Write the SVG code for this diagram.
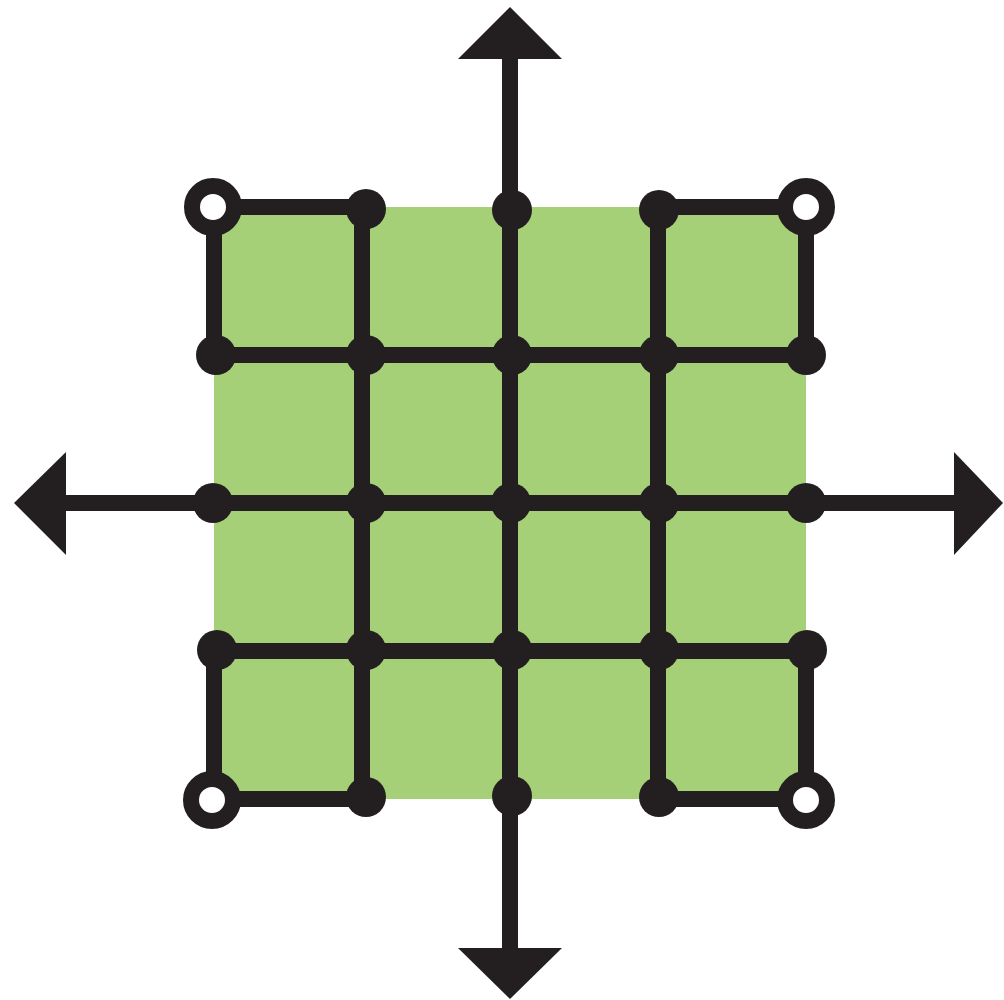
<svg xmlns="http://www.w3.org/2000/svg" width="1004" height="1000" viewBox="0 0 1004 1000">
<style>
.ln{stroke:#231f20;stroke-width:16;fill:none}
.dot{fill:#231f20}
.open{fill:#ffffff;stroke:#231f20;stroke-width:16}
.head{fill:#231f20}
</style>
<rect width="1004" height="1000" fill="#ffffff"/>
<rect id="field" x="214" y="207" width="592" height="592" fill="#a5d077"/>
<g id="connectors">
<line class="ln" x1="510" y1="55" x2="510" y2="952"/>
<line class="ln" x1="62" y1="503" x2="958" y2="503"/>
<line class="ln" x1="214" y1="355" x2="806" y2="355"/>
<line class="ln" x1="214" y1="651" x2="806" y2="651"/>
<line class="ln" x1="362" y1="207" x2="362" y2="799"/>
<line class="ln" x1="658" y1="207" x2="658" y2="799"/>
<line class="ln" x1="214" y1="207" x2="366" y2="207"/>
<line class="ln" x1="658" y1="207" x2="806" y2="207"/>
<line class="ln" x1="214" y1="799" x2="366" y2="799"/>
<line class="ln" x1="658" y1="799" x2="806" y2="799"/>
<line class="ln" x1="214" y1="207" x2="214" y2="355"/>
<line class="ln" x1="806" y1="207" x2="806" y2="355"/>
<line class="ln" x1="214" y1="651" x2="214" y2="799"/>
<line class="ln" x1="806" y1="651" x2="806" y2="799"/>
<polygon class="head" points="510,7 562,59 458,59"/>
<polygon class="head" points="510,999 562,948 458,948"/>
<polygon class="head" points="14,503 66,452 66,555"/>
<polygon class="head" points="1003,503 954,452 954,555"/>
</g>
<g id="n-r1c1"><circle class="open" cx="213" cy="207" r="21"/></g>
<g id="n-r1c2"><circle class="dot" cx="366" cy="209" r="20"/></g>
<g id="n-r1c3"><circle class="dot" cx="512" cy="210" r="20"/></g>
<g id="n-r1c4"><circle class="dot" cx="659" cy="210" r="20"/></g>
<g id="n-r1c5"><circle class="open" cx="806" cy="207" r="21"/></g>
<g id="n-r2c1"><circle class="dot" cx="216" cy="355" r="20"/></g>
<g id="n-r2c2"><circle class="dot" cx="366" cy="355" r="20"/></g>
<g id="n-r2c3"><circle class="dot" cx="512" cy="355" r="20"/></g>
<g id="n-r2c4"><circle class="dot" cx="659" cy="355" r="20"/></g>
<g id="n-r2c5"><circle class="dot" cx="806" cy="355" r="20"/></g>
<g id="n-r3c1"><circle class="dot" cx="213" cy="503" r="20"/></g>
<g id="n-r3c2"><circle class="dot" cx="366" cy="503" r="20"/></g>
<g id="n-r3c3"><circle class="dot" cx="511" cy="503" r="20"/></g>
<g id="n-r3c4"><circle class="dot" cx="659" cy="503" r="20"/></g>
<g id="n-r3c5"><circle class="dot" cx="806" cy="503" r="20"/></g>
<g id="n-r4c1"><circle class="dot" cx="217" cy="650" r="20"/></g>
<g id="n-r4c2"><circle class="dot" cx="366" cy="650" r="20"/></g>
<g id="n-r4c3"><circle class="dot" cx="512" cy="650" r="20"/></g>
<g id="n-r4c4"><circle class="dot" cx="659" cy="650" r="20"/></g>
<g id="n-r4c5"><circle class="dot" cx="807" cy="650" r="20"/></g>
<g id="n-r5c1"><circle class="open" cx="212" cy="800" r="21"/></g>
<g id="n-r5c2"><circle class="dot" cx="366" cy="797" r="20"/></g>
<g id="n-r5c3"><circle class="dot" cx="512" cy="796" r="20"/></g>
<g id="n-r5c4"><circle class="dot" cx="659" cy="797" r="20"/></g>
<g id="n-r5c5"><circle class="open" cx="806" cy="800" r="21"/></g>
</svg>
